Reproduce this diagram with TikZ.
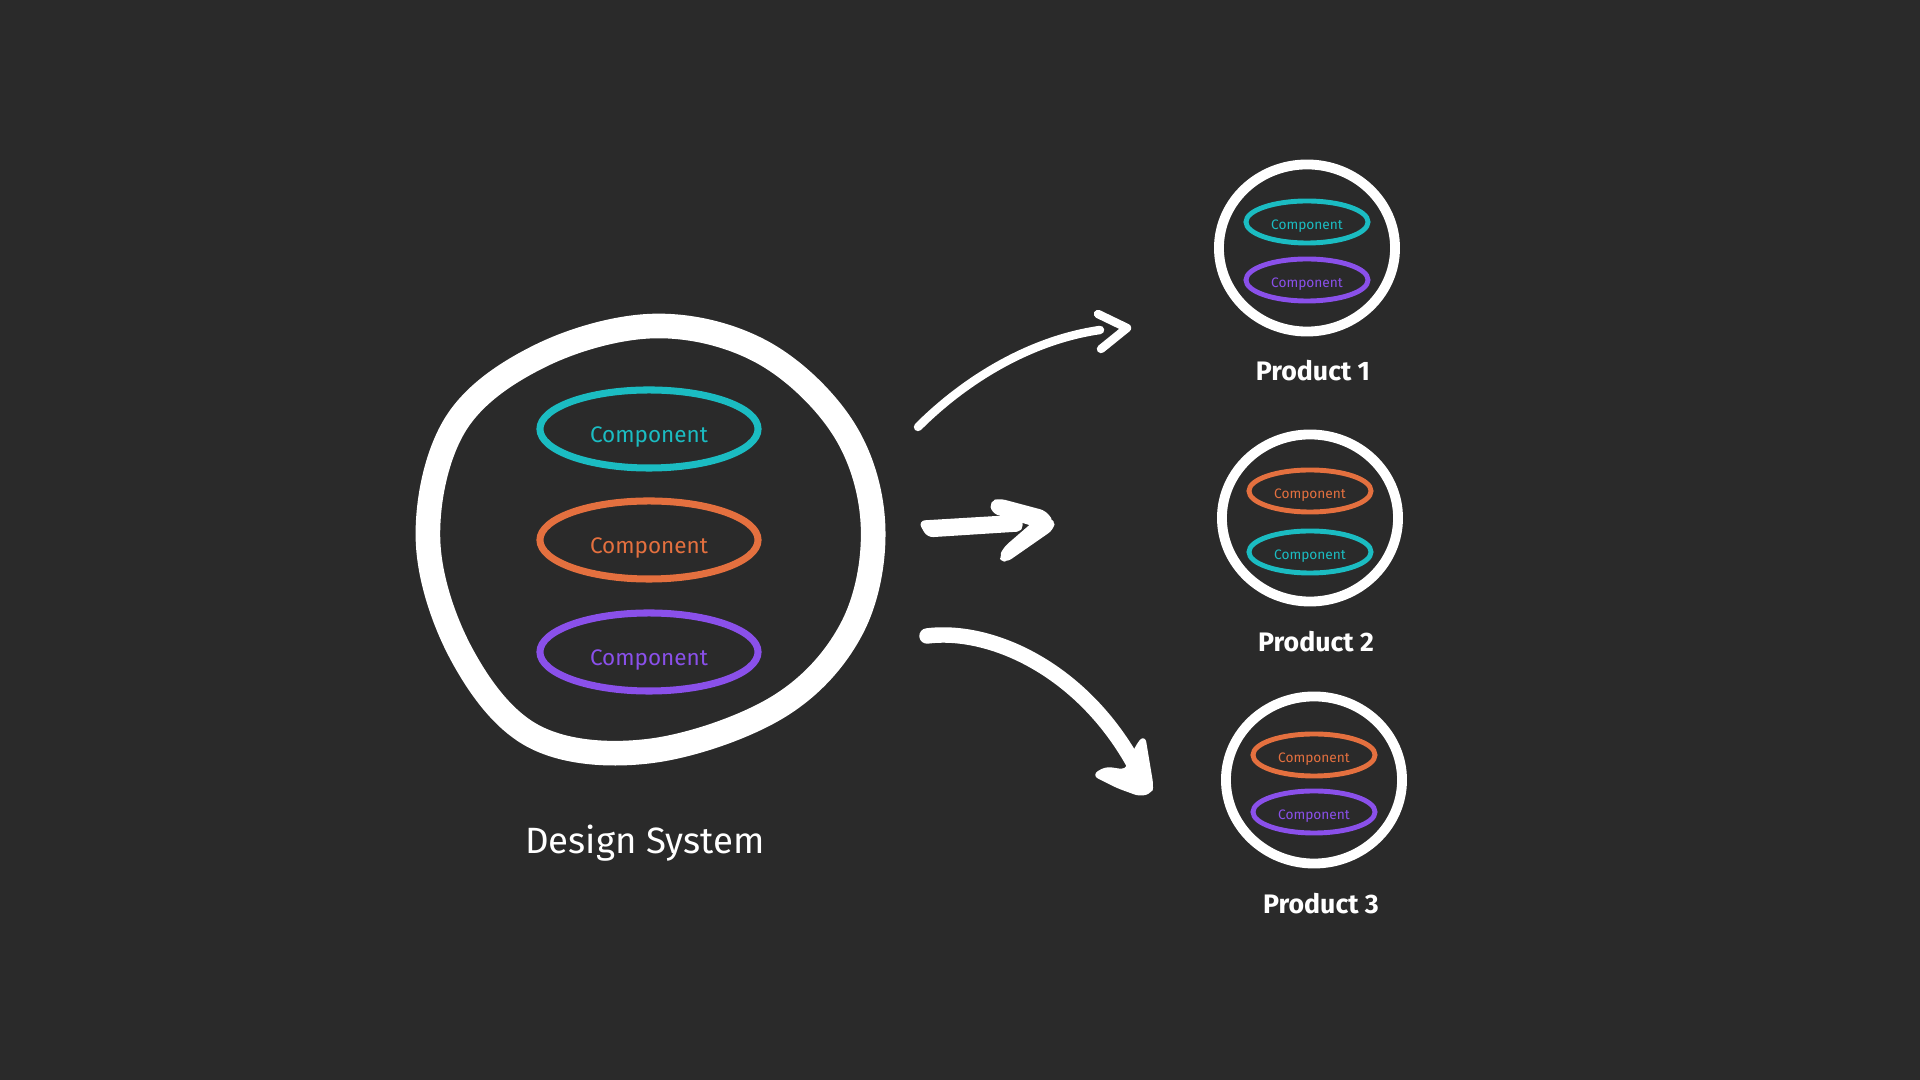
\documentclass[tikz,border=0pt]{standalone}
\usepackage{fontspec}
\setmainfont{Fira Sans}
\usetikzlibrary{shapes.geometric}
\definecolor{bg}{HTML}{2A2A2A}
\definecolor{ccyan}{HTML}{1BBCC2}
\definecolor{corange}{HTML}{E4703F}
\definecolor{cpurple}{HTML}{8A50EA}
\tikzset{
  px/.style={x=0.01cm,y=-0.01cm},
  bigcomp/.style={ellipse,draw,line width=2pt,inner sep=0pt,minimum width=2.18cm,minimum height=0.78cm,text height=7.5pt,text depth=0pt,font=\fontsize{6.4}{8}\selectfont},
  smallcomp/.style={ellipse,draw,line width=1.4pt,inner sep=0pt,minimum width=1.22cm,minimum height=0.42cm,text height=4.4pt,text depth=0pt,font=\fontsize{3.9}{5}\selectfont},
  prodring/.style={ellipse,draw=white,line width=2.8pt,inner sep=0pt,minimum width=1.76cm,minimum height=1.67cm},
  prodlabel/.style={text=white,font=\fontsize{7.6}{9}\selectfont\bfseries},
  arrowline/.style={draw=white,line cap=round,line join=round},
  brush/.style={fill=white,draw=white,line width=0.8pt,line join=round,rounded corners=1.5pt}
}
\begin{document}
\begin{tikzpicture}[px]
\fill[bg] (0,0) rectangle (1920,1080);
\useasboundingbox (0,0) rectangle (1920,1080);
% big design system circle
\coordinate (dsc) at (650,539);
\draw[white,line width=7pt,line join=round] plot[smooth cycle,tension=0.6] coordinates {
 (655,326) (762,352) (843,428) (873,525) (852,628) (778,707) (650,751) (535,737) (462,655) (428,540) (455,425) (540,356)};
\node[bigcomp,draw=ccyan,text=ccyan] (c1) at (649,429) {Component};
\node[bigcomp,draw=corange,text=corange] (c2) at (649,540) {Component};
\node[bigcomp,draw=cpurple,text=cpurple] (c3) at (649,652) {Component};
\node[text=white,font=\fontsize{10.4}{12}\selectfont\mdseries] (dslabel) at (645,843) {Design System};
% products
\node[prodring] (p1) at (1307,248) {};
\node[smallcomp,draw=ccyan,text=ccyan] (p1a) at (1307,222) {Component};
\node[smallcomp,draw=cpurple,text=cpurple] (p1b) at (1307,280) {Component};
\node[prodlabel] (p1l) at (1313,371) {Product 1};
\node[prodring] (p2) at (1310,518) {};
\node[smallcomp,draw=corange,text=corange] (p2a) at (1310,491) {Component};
\node[smallcomp,draw=ccyan,text=ccyan] (p2b) at (1310,552) {Component};
\node[prodlabel] (p2l) at (1316,642) {Product 2};
\node[prodring] (p3) at (1314,780) {};
\node[smallcomp,draw=corange,text=corange] (p3a) at (1314,755) {Component};
\node[smallcomp,draw=cpurple,text=cpurple] (p3b) at (1314,812) {Component};
\node[prodlabel] (p3l) at (1321,904) {Product 3};
% arrow endpoints
\coordinate (a1s) at (918,427);
\coordinate (a1e) at (1127,328);
\coordinate (a2s) at (922,528);
\coordinate (a2e) at (1053,523);
\coordinate (a3s) at (927,636);
\coordinate (a3e) at (1151,792);
% arrow 1
\draw[arrowline,line width=2.4pt] (a1s) .. controls (965,380) and (1030,340) .. (1100,330);
\draw[arrowline,line width=2.4pt] (1098,314) -- (a1e) -- (1101,349);
% arrow 2
\filldraw[brush] (920,522) -- (1020,516) -- (1022,530) -- (928,536) -- cycle;
\filldraw[brush] (991,502) -- (1000,500) -- (1045,512) -- (a2e) -- (1040,527) -- (993,512) -- cycle;
\filldraw[brush] (1054,520) -- (1052,529) -- (1006,561) -- (1000,558) -- (1005,548) -- (1035,522) -- cycle;
% arrow 3
\draw[arrowline,line width=4.4pt] (a3s) .. controls (990,628) and (1080,668) .. (1133,762);
\filldraw[brush] (1094,775) -- (1106,768) -- (1126,771) -- (1137,746) -- (1144,737) -- (1152,785) -- (a3e) -- (1140,795) -- (1118,787) -- cycle;
\end{tikzpicture}
\end{document}
